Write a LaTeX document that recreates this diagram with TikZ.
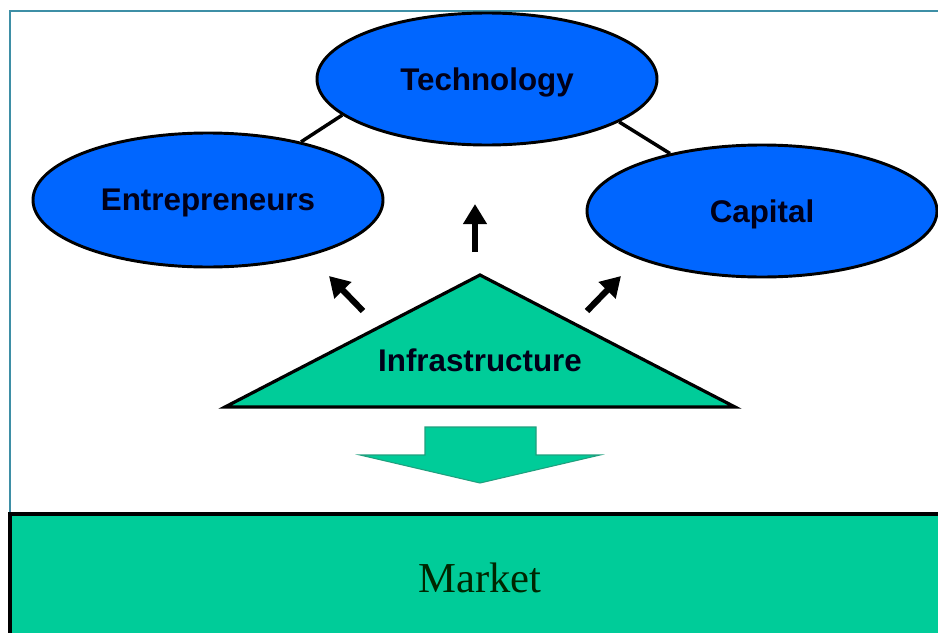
\documentclass[tikz,border=0pt]{standalone}
\usepackage{fontspec}
\setmainfont{Liberation Serif}
\newfontfamily\labelfont{Liberation Sans}
\usetikzlibrary{shapes.geometric,arrows.meta}

\definecolor{ovalblue}{HTML}{0066FF}
\definecolor{basegreen}{HTML}{00CC99}
\definecolor{greenedge}{HTML}{1FA07E}
\definecolor{framecol}{HTML}{3E8FA6}

\tikzset{
  oval/.style={ellipse, draw=black, line width=2.2pt, fill=ovalblue,
    font=\labelfont\bfseries\fontsize{23.5}{28}\selectfont,
    text=black!90!blue, text depth=0pt, inner sep=0pt},
  link/.style={draw=black, line width=2.6pt},
  push/.style={draw=black, line width=4.6pt,
    -{Triangle[length=15pt,width=17pt]}},
}

\begin{document}
\begin{tikzpicture}[x=0.75pt,y=-0.75pt]
  \useasboundingbox (0,0) rectangle (938,632);
  \fill[white] (0,0) rectangle (938,632);

  % outer frame
  \draw[framecol, line width=1.6pt] (10,640) -- (10,11) -- (945,11);

  % the three factors
  \node[oval, minimum width=255pt, minimum height=99pt]   (tech) at (487,79)  {Technology};
  \node[oval, minimum width=262.5pt, minimum height=100.5pt] (ent) at (208,200) {Entrepreneurs};
  \node[oval, minimum width=262.5pt, minimum height=99pt]  (cap) at (762,211) {Capital};

  \draw[link] (ent.32) -- (tech.194);
  \draw[link] (tech.342) -- (cap.148);

  % infrastructure base
  \coordinate (apex)  at (480,275);
  \coordinate (bleft) at (225,407);
  \coordinate (bright) at (735,407);
  \filldraw[fill=basegreen, draw=black, line width=2.4pt, line join=miter]
    (bleft) -- (apex) -- (bright) -- cycle;
  \node[font=\labelfont\bfseries\fontsize{23.5}{28}\selectfont,
        text=black!90!blue, text depth=0pt, inner sep=0pt] (infra) at (480,360) {Infrastructure};

  % arrows from infrastructure to the factors
  \coordinate (upTail) at (475,252);
  \coordinate (upTip)  at (475,204);
  \coordinate (lTail)  at (363,311);
  \coordinate (lTip)   at (329,276);
  \coordinate (rTail)  at (587,311);
  \coordinate (rTip)   at (621,276);
  \draw[push] (upTail) -- (upTip);
  \draw[push] (lTail) -- (lTip);
  \draw[push] (rTail) -- (rTip);

  % block arrow down to the market
  \filldraw[fill=basegreen, draw=greenedge, line width=0.8pt]
    (425,427) -- (536,427) -- (536,455) -- (600,455) -- (480,483)
    -- (360,455) -- (425,455) -- cycle;

  % market
  \filldraw[fill=basegreen, draw=black, line width=3.2pt]
    (10,514) rectangle (960,660);
  \node[font=\fontsize{32}{38}\selectfont, text=black!85!green,
        text depth=0pt, inner sep=0pt] (market) at (480,578) {Market};
\end{tikzpicture}
\end{document}
